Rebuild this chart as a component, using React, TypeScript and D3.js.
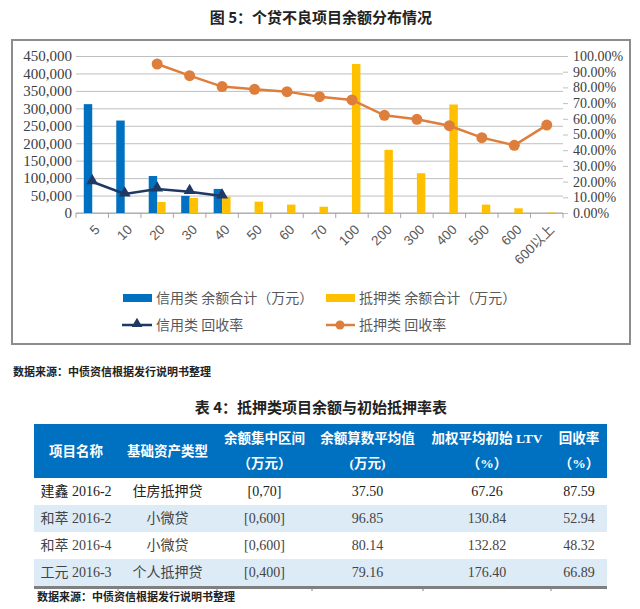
import React, { useEffect, useRef } from 'react'
import * as d3 from 'd3'

// chart data
const categories = ['5', '10', '20', '30', '40', '50', '60', '70', '100', '200', '300', '400', '500', '600', '600以上']
const creditBalance = [312000, 265000, 106000, 49000, 69000, 0, 0, 0, 0, 0, 0, 0, 0, 0, 0]
const mortgageBalance = [0, 0, 31500, 43000, 47000, 32500, 24000, 18000, 427000, 181000, 114000, 311000, 24000, 13500, 1200]
const creditRate = [0.199, 0.121, 0.153, 0.136, 0.108, null, null, null, null, null, null, null, null, null, null]
const mortgageRate = [null, null, 0.949, 0.875, 0.805, 0.788, 0.773, 0.741, 0.72, 0.622, 0.597, 0.556, 0.48, 0.431, 0.56]
const leftTicks = [0, 50000, 100000, 150000, 200000, 250000, 300000, 350000, 400000, 450000]
const rightTicks = [0, 0.1, 0.2, 0.3, 0.4, 0.5, 0.6, 0.7, 0.8, 0.9, 1]

// table data
const headerTop = ['项目名称', '基础资产类型', '余额集中区间', '余额算数平均值', '加权平均初始 LTV', '回收率']
const headerBottom = ['', '', '（万元）', '(万元)', '（%）', '（%）']
const projectNames = ['建鑫 2016-2', '和萃 2016-2', '和萃 2016-4', '工元 2016-3']
const assetTypes = ['住房抵押贷', '小微贷', '小微贷', '个人抵押贷']
const ranges = ['[0,70]', '[0,600]', '[0,600]', '[0,400]']
const avgBalances = ['37.50', '96.85', '80.14', '79.16']
const ltvs = ['67.26', '130.84', '132.82', '176.40']
const recoveryRates = ['87.59', '52.94', '48.32', '66.89']

const BLUE = '#0070C0'
const YELLOW = '#FFC000'
const NAVY = '#1F3864'
const ORANGE = '#DE7E3C'
const SANS = '"Noto Sans CJK SC", "Liberation Sans", sans-serif'
const SERIF = '"Liberation Serif", "Noto Sans CJK SC", serif'

function App() {
    const ref = useRef<SVGSVGElement>(null)

    useEffect(() => {
        document.body.style.margin = '0'
        const svg = d3.select(ref.current)
        svg.selectAll('*').remove()

        svg.append('rect').attr('width', 640).attr('height', 609).attr('fill', '#fff')

        // title
        svg.append('text')
            .attr('x', 321).attr('y', 18).attr('dy', '0.35em')
            .attr('text-anchor', 'middle')
            .style('font-family', SANS).style('font-size', '15px').style('font-weight', 'bold')
            .attr('fill', '#222')
            .text('图 5：个贷不良项目余额分布情况')

        // chart frame
        svg.append('rect')
            .attr('x', 12).attr('y', 40).attr('width', 618).attr('height', 304)
            .attr('fill', '#fff').attr('stroke', '#8c8c8c').attr('stroke-width', 2)

        const left = 76, right = 563, top = 56, bottom = 213

        const y = d3.scaleLinear().domain([0, 450000]).range([bottom, top])
        const yR = d3.scaleLinear().domain([0, 1]).range([bottom, top])
        const x0 = d3.scaleBand().domain(categories).range([left, right]).paddingInner(0.48).paddingOuter(0.24)
        const x1 = d3.scaleBand().domain(['credit', 'mortgage']).range([0, x0.bandwidth()])
        const cx = (c: string) => (x0(c) as number) + x0.bandwidth() / 2

        // left axis + gridlines
        const gl = svg.append('g').attr('transform', `translate(${left},0)`)
            .call(d3.axisLeft(y).tickValues(leftTicks).tickSize(-(right - left)).tickPadding(4).tickFormat(d3.format(',')))
        gl.select('.domain').remove()
        gl.selectAll('line').attr('stroke', '#bfbfbf')
        gl.selectAll('text').style('font-family', SERIF).style('font-size', '15px').attr('fill', '#404040')

        // right axis
        const gr = svg.append('g').attr('transform', `translate(${right},0)`)
            .call(d3.axisRight(yR).tickValues(rightTicks).tickSize(5).tickPadding(5).tickFormat(d => (+d * 100).toFixed(2) + '%'))
        gr.select('.domain').remove()
        gr.selectAll('line').attr('stroke', '#bfbfbf')
        gr.selectAll('text').style('font-family', SERIF).style('font-size', '14px').attr('fill', '#404040')

        // x baseline + ticks at category boundaries
        svg.append('line').attr('x1', left).attr('x2', right).attr('y1', bottom).attr('y2', bottom)
            .attr('stroke', '#a6a6a6')
        const step = x0.step()
        svg.selectAll('.xtick')
            .data(d3.range(categories.length + 1))
            .enter().append('line')
            .attr('x1', i => left + i * step).attr('x2', i => left + i * step)
            .attr('y1', bottom).attr('y2', bottom + 5)
            .attr('stroke', '#a6a6a6')

        // bars
        const rows = categories.map((c, i) => ({ c, credit: creditBalance[i], mortgage: mortgageBalance[i] }))
        svg.selectAll('.bar-credit')
            .data(rows)
            .enter().append('rect')
            .attr('x', d => (x0(d.c) as number) + (x1('credit') as number))
            .attr('width', x1.bandwidth())
            .attr('y', d => y(d.credit))
            .attr('height', d => bottom - y(d.credit))
            .attr('fill', BLUE)
        svg.selectAll('.bar-mortgage')
            .data(rows)
            .enter().append('rect')
            .attr('x', d => (x0(d.c) as number) + (x1('mortgage') as number))
            .attr('width', x1.bandwidth())
            .attr('y', d => y(d.mortgage))
            .attr('height', d => bottom - y(d.mortgage))
            .attr('fill', YELLOW)

        // lines
        const line = d3.line<{ c: string, v: number | null }>()
            .defined(d => d.v != null)
            .x(d => cx(d.c))
            .y(d => yR(d.v as number))

        const creditPts = categories.map((c, i) => ({ c, v: creditRate[i] }))
        const mortgagePts = categories.map((c, i) => ({ c, v: mortgageRate[i] }))

        svg.append('path').datum(mortgagePts)
            .attr('d', line).attr('fill', 'none').attr('stroke', ORANGE).attr('stroke-width', 2.5)
        svg.selectAll('.dot-m')
            .data(mortgagePts.filter(d => d.v != null))
            .enter().append('circle')
            .attr('cx', d => cx(d.c)).attr('cy', d => yR(d.v as number))
            .attr('r', 5.5).attr('fill', ORANGE)

        svg.append('path').datum(creditPts)
            .attr('d', line).attr('fill', 'none').attr('stroke', NAVY).attr('stroke-width', 2.5)
        svg.selectAll('.tri')
            .data(creditPts.filter(d => d.v != null))
            .enter().append('path')
            .attr('d', d3.symbol(d3.symbolTriangle, 60))
            .attr('transform', d => `translate(${cx(d.c)},${yR(d.v as number) - 1})`)
            .attr('fill', NAVY)

        // category labels
        svg.selectAll('.xlabel')
            .data(categories)
            .enter().append('text')
            .attr('transform', c => `translate(${cx(c) + 5},${bottom + 14}) rotate(-45)`)
            .attr('text-anchor', 'end')
            .attr('dy', '0.35em')
            .style('font-family', '"Liberation Sans", "Noto Sans CJK SC", sans-serif')
            .style('font-size', '13.5px')
            .attr('fill', '#595959')
            .text(c => c)

        // legend
        const lg = svg.append('g').style('font-family', SANS).style('font-size', '14px')
        const legendText = (x: number, yy: number, t: string) =>
            lg.append('text').attr('x', x).attr('y', yy).attr('dy', '0.35em').attr('fill', '#595959').text(t)

        lg.append('rect').attr('x', 123).attr('y', 294).attr('width', 29).attr('height', 8).attr('fill', BLUE)
        legendText(156, 298, '信用类 余额合计（万元）')
        lg.append('rect').attr('x', 326).attr('y', 294).attr('width', 29).attr('height', 8).attr('fill', YELLOW)
        legendText(359, 298, '抵押类 余额合计（万元）')

        lg.append('line').attr('x1', 122).attr('x2', 152).attr('y1', 325).attr('y2', 325)
            .attr('stroke', NAVY).attr('stroke-width', 2.5)
        lg.append('path').attr('d', d3.symbol(d3.symbolTriangle, 50)).attr('transform', 'translate(137,324)').attr('fill', NAVY)
        legendText(156, 325, '信用类 回收率')
        lg.append('line').attr('x1', 326).attr('x2', 355).attr('y1', 325).attr('y2', 325)
            .attr('stroke', ORANGE).attr('stroke-width', 2.5)
        lg.append('circle').attr('cx', 340).attr('cy', 325).attr('r', 4.5).attr('fill', ORANGE)
        legendText(359, 325, '抵押类 回收率')

        // source notes
        const source = (x: number, yy: number) =>
            svg.append('text').attr('x', x).attr('y', yy).attr('dy', '0.35em')
                .style('font-family', SANS).style('font-size', '11px').style('font-weight', 'bold')
                .attr('fill', '#222').text('数据来源：中债资信根据发行说明书整理')
        source(13, 372)

        // table title
        svg.append('text')
            .attr('x', 321).attr('y', 408).attr('dy', '0.35em')
            .attr('text-anchor', 'middle')
            .style('font-family', SANS).style('font-size', '15px').style('font-weight', 'bold')
            .attr('fill', '#222')
            .text('表 4：抵押类项目余额与初始抵押率表')

        // table
        const colEdges = [34, 118, 217, 312, 423, 551, 607]
        const colMid = (i: number) => (colEdges[i] + colEdges[i + 1]) / 2
        const tTop = 424, headH = 54, rowH = 27
        const tLeft = colEdges[0], tRight = colEdges[colEdges.length - 1]

        svg.append('rect').attr('x', tLeft).attr('y', tTop).attr('width', tRight - tLeft).attr('height', headH).attr('fill', BLUE)

        const head = svg.append('g').style('font-family', SERIF).style('font-size', '13.5px').style('font-weight', 'bold').attr('fill', '#fff')
        headerTop.forEach((t, i) => {
            const single = headerBottom[i] === ''
            head.append('text').attr('x', colMid(i)).attr('y', single ? tTop + 27 : tTop + 14)
                .attr('dy', '0.35em').attr('text-anchor', 'middle').text(t)
            if (!single) {
                head.append('text').attr('x', colMid(i)).attr('y', tTop + 39)
                    .attr('dy', '0.35em').attr('text-anchor', 'middle').text(headerBottom[i])
            }
        })

        const tableRows = projectNames.map((p, i) => [p, assetTypes[i], ranges[i], avgBalances[i], ltvs[i], recoveryRates[i]])
        const body = svg.append('g').style('font-family', SERIF).style('font-size', '14px')
        tableRows.forEach((r, ri) => {
            const ry = tTop + headH + ri * rowH
            body.append('rect').attr('x', tLeft).attr('y', ry).attr('width', tRight - tLeft).attr('height', rowH)
                .attr('fill', ri % 2 === 1 ? '#DDEBF7' : '#fff')
            r.forEach((t, ci) => {
                body.append('text').attr('x', colMid(ci)).attr('y', ry + rowH / 2)
                    .attr('dy', '0.35em').attr('text-anchor', 'middle')
                    .attr('fill', ri === 0 ? '#222' : '#444').text(t)
            })
        })
        const tBottom = tTop + headH + tableRows.length * rowH
        svg.append('rect').attr('x', tLeft).attr('y', tBottom).attr('width', tRight - tLeft).attr('height', 3).attr('fill', '#7f7f7f')
        svg.selectAll('.colmark')
            .data(colEdges.slice(1, -1))
            .enter().append('line')
            .attr('x1', d => d).attr('x2', d => d).attr('y1', tBottom + 3).attr('y2', tBottom + 5)
            .attr('stroke', '#7f7f7f')

        source(37, 597)
    }, [])

    return <svg ref={ref} width={640} height={609} style={{ display: 'block' }} />
}

export default App
